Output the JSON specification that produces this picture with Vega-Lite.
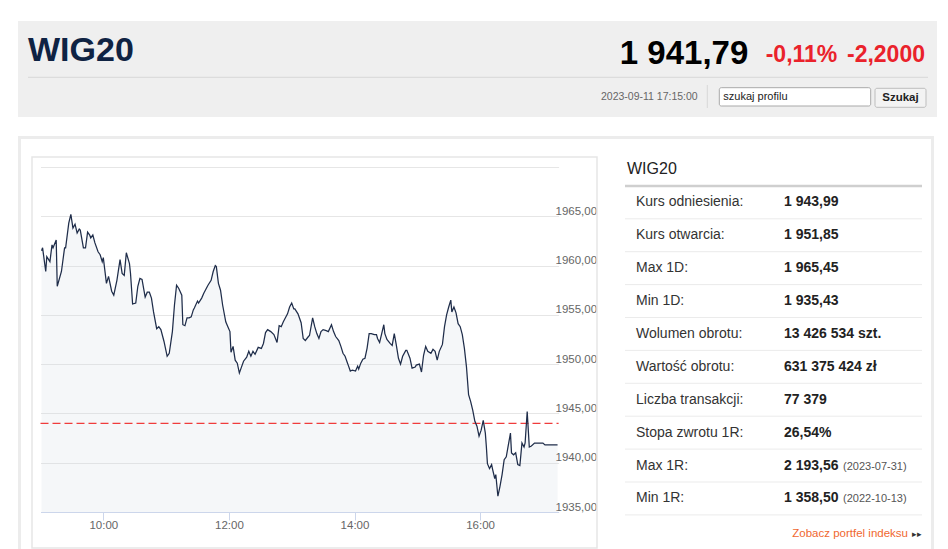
{
  "$schema": "https://vega.github.io/schema/vega-lite/v6.json",
  "padding": {"left": 18, "top": 21, "right": 0, "bottom": 0},
  "background": "#ffffff",
  "spacing": 19,
  "config": {"font": "Liberation Sans", "view": {"stroke": null}},
  "vconcat": [
    {
      "width": 919,
      "height": 96,
      "view": {"fill": "#efefef", "stroke": null},
      "data": {
        "values": [
          {"item": "name", "text": "WIG20"},
          {"item": "price", "text": "1 941,79"},
          {"item": "pct", "text": "-0,11%"},
          {"item": "chg", "text": "-2,2000"},
          {"item": "time", "text": "2023-09-11 17:15:00"},
          {"item": "search", "text": "szukaj profilu"},
          {"item": "button", "text": "Szukaj"}
        ]
      },
      "layer": [
        {
          "data": {"values": [{}]},
          "mark": {"type": "rule", "color": "#d8d8d8", "strokeWidth": 1},
          "encoding": {
            "x": {"datum": 10, "type": "quantitative", "scale": {"domain": [0, 919], "range": [0, 919]}, "axis": null},
            "x2": {"datum": 910},
            "y": {"datum": 56.3, "type": "quantitative", "scale": {"domain": [0, 96], "range": [0, 96]}, "axis": null}
          }
        },
        {
          "data": {"values": [{}]},
          "mark": {"type": "rule", "color": "#d8d8d8", "strokeWidth": 1},
          "encoding": {
            "x": {"datum": 689.3, "type": "quantitative", "scale": {"domain": [0, 919], "range": [0, 919]}, "axis": null},
            "y": {"datum": 64, "type": "quantitative", "scale": {"domain": [0, 96], "range": [0, 96]}, "axis": null},
            "y2": {"datum": 87}
          }
        },
        {
          "data": {"values": [{}]},
          "mark": {"type": "rect", "fill": "#ffffff", "stroke": "#a9a9a9", "strokeWidth": 1, "cornerRadius": 2},
          "encoding": {
            "x": {"datum": 701.3, "type": "quantitative", "scale": {"domain": [0, 919], "range": [0, 919]}, "axis": null},
            "x2": {"datum": 852.7},
            "y": {"datum": 66.7, "type": "quantitative", "scale": {"domain": [0, 96], "range": [0, 96]}, "axis": null},
            "y2": {"datum": 85}
          }
        },
        {
          "data": {"values": [{}]},
          "mark": {"type": "rect", "fill": "#f3f3f3", "stroke": "#bdbdbd", "strokeWidth": 1, "cornerRadius": 2},
          "encoding": {
            "x": {"datum": 857, "type": "quantitative", "scale": {"domain": [0, 919], "range": [0, 919]}, "axis": null},
            "x2": {"datum": 908},
            "y": {"datum": 67.3, "type": "quantitative", "scale": {"domain": [0, 96], "range": [0, 96]}, "axis": null},
            "y2": {"datum": 86.3}
          }
        },
        {
          "transform": [{"filter": "datum.item === 'name'"}],
          "mark": {"type": "text", "align": "left", "baseline": "alphabetic", "fontSize": 34, "fontWeight": "bold", "color": "#0f2343"},
          "encoding": {
            "x": {"datum": 10, "type": "quantitative", "scale": {"domain": [0, 919], "range": [0, 919]}, "axis": null},
            "y": {"datum": 39.5, "type": "quantitative", "scale": {"domain": [0, 96], "range": [0, 96]}, "axis": null},
            "text": {"field": "text"}
          }
        },
        {
          "transform": [{"filter": "datum.item === 'price'"}],
          "mark": {"type": "text", "align": "right", "baseline": "alphabetic", "fontSize": 33, "fontWeight": "bold", "color": "#000000"},
          "encoding": {
            "x": {"datum": 730.3, "type": "quantitative", "scale": {"domain": [0, 919], "range": [0, 919]}, "axis": null},
            "y": {"datum": 43.3, "type": "quantitative", "scale": {"domain": [0, 96], "range": [0, 96]}, "axis": null},
            "text": {"field": "text"}
          }
        },
        {
          "transform": [{"filter": "datum.item === 'pct'"}],
          "mark": {"type": "text", "align": "right", "baseline": "alphabetic", "fontSize": 23, "fontWeight": "bold", "color": "#ea222b"},
          "encoding": {
            "x": {"datum": 819.3, "type": "quantitative", "scale": {"domain": [0, 919], "range": [0, 919]}, "axis": null},
            "y": {"datum": 40.7, "type": "quantitative", "scale": {"domain": [0, 96], "range": [0, 96]}, "axis": null},
            "text": {"field": "text"}
          }
        },
        {
          "transform": [{"filter": "datum.item === 'chg'"}],
          "mark": {"type": "text", "align": "right", "baseline": "alphabetic", "fontSize": 23, "fontWeight": "bold", "color": "#ea222b"},
          "encoding": {
            "x": {"datum": 907, "type": "quantitative", "scale": {"domain": [0, 919], "range": [0, 919]}, "axis": null},
            "y": {"datum": 40.7, "type": "quantitative", "scale": {"domain": [0, 96], "range": [0, 96]}, "axis": null},
            "text": {"field": "text"}
          }
        },
        {
          "transform": [{"filter": "datum.item === 'time'"}],
          "mark": {"type": "text", "align": "right", "baseline": "middle", "fontSize": 10.5, "color": "#666666"},
          "encoding": {
            "x": {"datum": 679.7, "type": "quantitative", "scale": {"domain": [0, 919], "range": [0, 919]}, "axis": null},
            "y": {"datum": 75.7, "type": "quantitative", "scale": {"domain": [0, 96], "range": [0, 96]}, "axis": null},
            "text": {"field": "text"}
          }
        },
        {
          "transform": [{"filter": "datum.item === 'search'"}],
          "mark": {"type": "text", "align": "left", "baseline": "middle", "fontSize": 11, "color": "#222222"},
          "encoding": {
            "x": {"datum": 705.3, "type": "quantitative", "scale": {"domain": [0, 919], "range": [0, 919]}, "axis": null},
            "y": {"datum": 76, "type": "quantitative", "scale": {"domain": [0, 96], "range": [0, 96]}, "axis": null},
            "text": {"field": "text"}
          }
        },
        {
          "transform": [{"filter": "datum.item === 'button'"}],
          "mark": {"type": "text", "align": "center", "baseline": "middle", "fontSize": 11.5, "fontWeight": "bold", "color": "#222222"},
          "encoding": {
            "x": {"datum": 882.5, "type": "quantitative", "scale": {"domain": [0, 919], "range": [0, 919]}, "axis": null},
            "y": {"datum": 77, "type": "quantitative", "scale": {"domain": [0, 96], "range": [0, 96]}, "axis": null},
            "text": {"field": "text"}
          }
        }
      ]
    },
    {
      "width": 916,
      "height": 413,
      "data": {
        "format": {"parse": {"t": "date:'%H:%M'"}},
        "values": [
          {"t": "09:01", "v": 1961.5}, {"t": "09:02", "v": 1961.8}, {"t": "09:05", "v": 1959.4}, {"t": "09:06", "v": 1960.9},
          {"t": "09:09", "v": 1960.4}, {"t": "09:11", "v": 1962.1}, {"t": "09:12", "v": 1961.8}, {"t": "09:15", "v": 1962.6},
          {"t": "09:16", "v": 1957.9}, {"t": "09:20", "v": 1959.4}, {"t": "09:23", "v": 1961.8}, {"t": "09:24", "v": 1961.8},
          {"t": "09:27", "v": 1964.3}, {"t": "09:29", "v": 1965.2}, {"t": "09:31", "v": 1963.8}, {"t": "09:33", "v": 1964.2},
          {"t": "09:35", "v": 1963.3}, {"t": "09:37", "v": 1963.7}, {"t": "09:38", "v": 1963.6}, {"t": "09:41", "v": 1961.8},
          {"t": "09:43", "v": 1961.8}, {"t": "09:45", "v": 1963.4}, {"t": "09:47", "v": 1963.1}, {"t": "09:48", "v": 1962.8},
          {"t": "09:50", "v": 1963.1}, {"t": "09:52", "v": 1962.3}, {"t": "09:55", "v": 1961.4}, {"t": "09:57", "v": 1961.1},
          {"t": "09:59", "v": 1960.4}, {"t": "10:00", "v": 1960.8}, {"t": "10:03", "v": 1958.2}, {"t": "10:05", "v": 1958.9},
          {"t": "10:08", "v": 1957.4}, {"t": "10:10", "v": 1957.0}, {"t": "10:13", "v": 1958.5}, {"t": "10:16", "v": 1960.6},
          {"t": "10:18", "v": 1959.2}, {"t": "10:20", "v": 1959.0}, {"t": "10:22", "v": 1961.3}, {"t": "10:25", "v": 1960.2},
          {"t": "10:26", "v": 1959.2}, {"t": "10:28", "v": 1956.1}, {"t": "10:31", "v": 1956.2}, {"t": "10:33", "v": 1957.9},
          {"t": "10:35", "v": 1958.7}, {"t": "10:37", "v": 1958.6}, {"t": "10:40", "v": 1956.8}, {"t": "10:42", "v": 1957.3},
          {"t": "10:44", "v": 1957.3}, {"t": "10:46", "v": 1956.7}, {"t": "10:48", "v": 1955.3}, {"t": "10:51", "v": 1953.6},
          {"t": "10:53", "v": 1953.8}, {"t": "10:55", "v": 1953.5}, {"t": "10:58", "v": 1952.3}, {"t": "11:01", "v": 1950.8},
          {"t": "11:03", "v": 1951.1}, {"t": "11:06", "v": 1953.3}, {"t": "11:08", "v": 1956.0}, {"t": "11:10", "v": 1958.0},
          {"t": "11:12", "v": 1957.7}, {"t": "11:15", "v": 1957.0}, {"t": "11:16", "v": 1954.0}, {"t": "11:18", "v": 1953.9},
          {"t": "11:20", "v": 1954.7}, {"t": "11:22", "v": 1954.7}, {"t": "11:24", "v": 1954.8}, {"t": "11:26", "v": 1955.5},
          {"t": "11:27", "v": 1955.7}, {"t": "11:30", "v": 1956.4}, {"t": "11:31", "v": 1956.2}, {"t": "11:34", "v": 1956.7},
          {"t": "11:36", "v": 1957.2}, {"t": "11:38", "v": 1957.6}, {"t": "11:40", "v": 1958.0}, {"t": "11:43", "v": 1958.5},
          {"t": "11:45", "v": 1959.4}, {"t": "11:47", "v": 1960.0}, {"t": "11:48", "v": 1959.9}, {"t": "11:50", "v": 1958.2},
          {"t": "11:52", "v": 1957.5}, {"t": "11:54", "v": 1956.0}, {"t": "11:57", "v": 1954.3}, {"t": "11:59", "v": 1953.8},
          {"t": "12:01", "v": 1953.3}, {"t": "12:02", "v": 1951.2}, {"t": "12:04", "v": 1951.8}, {"t": "12:06", "v": 1950.4},
          {"t": "12:08", "v": 1950.1}, {"t": "12:10", "v": 1949.1}, {"t": "12:12", "v": 1949.7}, {"t": "12:14", "v": 1950.3},
          {"t": "12:17", "v": 1950.7}, {"t": "12:19", "v": 1951.3}, {"t": "12:21", "v": 1950.8}, {"t": "12:23", "v": 1951.3},
          {"t": "12:25", "v": 1951.0}, {"t": "12:28", "v": 1951.7}, {"t": "12:31", "v": 1951.6}, {"t": "12:33", "v": 1952.1},
          {"t": "12:35", "v": 1953.2}, {"t": "12:37", "v": 1953.5}, {"t": "12:40", "v": 1953.3}, {"t": "12:43", "v": 1953.0},
          {"t": "12:46", "v": 1952.2}, {"t": "12:48", "v": 1953.9}, {"t": "12:50", "v": 1953.8}, {"t": "12:52", "v": 1954.3},
          {"t": "12:54", "v": 1954.7}, {"t": "12:56", "v": 1955.1}, {"t": "12:58", "v": 1955.8}, {"t": "13:00", "v": 1956.2},
          {"t": "13:02", "v": 1955.6}, {"t": "13:03", "v": 1955.6}, {"t": "13:06", "v": 1955.1}, {"t": "13:09", "v": 1954.2},
          {"t": "13:11", "v": 1952.6}, {"t": "13:13", "v": 1952.4}, {"t": "13:16", "v": 1952.8}, {"t": "13:17", "v": 1952.9},
          {"t": "13:20", "v": 1954.7}, {"t": "13:22", "v": 1953.8}, {"t": "13:24", "v": 1953.1}, {"t": "13:26", "v": 1952.6},
          {"t": "13:28", "v": 1953.3}, {"t": "13:30", "v": 1953.5}, {"t": "13:33", "v": 1953.4}, {"t": "13:35", "v": 1953.3},
          {"t": "13:38", "v": 1954.0}, {"t": "13:40", "v": 1953.3}, {"t": "13:42", "v": 1952.8}, {"t": "13:45", "v": 1952.4},
          {"t": "13:47", "v": 1951.8}, {"t": "13:49", "v": 1951.1}, {"t": "13:51", "v": 1950.8}, {"t": "13:53", "v": 1950.2},
          {"t": "13:54", "v": 1949.9}, {"t": "13:56", "v": 1949.3}, {"t": "13:58", "v": 1949.4}, {"t": "14:01", "v": 1949.3},
          {"t": "14:03", "v": 1949.8}, {"t": "14:04", "v": 1949.5}, {"t": "14:06", "v": 1950.1}, {"t": "14:08", "v": 1950.5},
          {"t": "14:10", "v": 1950.6}, {"t": "14:12", "v": 1951.6}, {"t": "14:14", "v": 1953.1}, {"t": "14:16", "v": 1953.1},
          {"t": "14:19", "v": 1953.0}, {"t": "14:21", "v": 1953.0}, {"t": "14:22", "v": 1952.6}, {"t": "14:24", "v": 1952.2},
          {"t": "14:26", "v": 1953.1}, {"t": "14:28", "v": 1954.0}, {"t": "14:29", "v": 1953.1}, {"t": "14:31", "v": 1952.5},
          {"t": "14:34", "v": 1952.1}, {"t": "14:36", "v": 1951.9}, {"t": "14:38", "v": 1953.1}, {"t": "14:40", "v": 1951.9},
          {"t": "14:42", "v": 1950.6}, {"t": "14:44", "v": 1950.0}, {"t": "14:46", "v": 1950.8}, {"t": "14:49", "v": 1951.4},
          {"t": "14:50", "v": 1951.4}, {"t": "14:53", "v": 1950.6}, {"t": "14:55", "v": 1949.6}, {"t": "14:58", "v": 1949.7},
          {"t": "14:59", "v": 1949.9}, {"t": "15:02", "v": 1950.0}, {"t": "15:04", "v": 1949.2}, {"t": "15:06", "v": 1950.9},
          {"t": "15:08", "v": 1951.8}, {"t": "15:10", "v": 1951.3}, {"t": "15:13", "v": 1951.1}, {"t": "15:15", "v": 1951.5},
          {"t": "15:17", "v": 1951.3}, {"t": "15:19", "v": 1950.4}, {"t": "15:21", "v": 1951.3}, {"t": "15:24", "v": 1952.0},
          {"t": "15:26", "v": 1953.8}, {"t": "15:28", "v": 1955.0}, {"t": "15:30", "v": 1955.8}, {"t": "15:32", "v": 1956.5},
          {"t": "15:33", "v": 1955.3}, {"t": "15:35", "v": 1955.8}, {"t": "15:37", "v": 1955.2}, {"t": "15:39", "v": 1954.1},
          {"t": "15:41", "v": 1953.8}, {"t": "15:43", "v": 1953.0}, {"t": "15:45", "v": 1951.6}, {"t": "15:47", "v": 1949.7},
          {"t": "15:49", "v": 1946.9}, {"t": "15:51", "v": 1946.2}, {"t": "15:53", "v": 1945.3}, {"t": "15:55", "v": 1944.2},
          {"t": "15:57", "v": 1943.7}, {"t": "15:59", "v": 1942.7}, {"t": "16:01", "v": 1943.3}, {"t": "16:03", "v": 1944.3},
          {"t": "16:05", "v": 1943.0}, {"t": "16:06", "v": 1941.6}, {"t": "16:07", "v": 1939.9}, {"t": "16:09", "v": 1939.4},
          {"t": "16:11", "v": 1939.8}, {"t": "16:12", "v": 1939.3}, {"t": "16:14", "v": 1938.4}, {"t": "16:15", "v": 1938.8},
          {"t": "16:17", "v": 1936.6}, {"t": "16:19", "v": 1937.6}, {"t": "16:21", "v": 1938.8}, {"t": "16:23", "v": 1940.3},
          {"t": "16:25", "v": 1940.6}, {"t": "16:27", "v": 1941.8}, {"t": "16:29", "v": 1943.0}, {"t": "16:30", "v": 1941.0},
          {"t": "16:32", "v": 1940.8}, {"t": "16:34", "v": 1941.0}, {"t": "16:36", "v": 1939.8}, {"t": "16:38", "v": 1939.7},
          {"t": "16:40", "v": 1942.0}, {"t": "16:42", "v": 1941.6}, {"t": "16:43", "v": 1942.0}, {"t": "16:45", "v": 1945.2},
          {"t": "16:47", "v": 1941.6}, {"t": "16:49", "v": 1941.7}, {"t": "16:52", "v": 1942.0}, {"t": "16:55", "v": 1942.0},
          {"t": "17:00", "v": 1942.0}, {"t": "17:02", "v": 1941.8}, {"t": "17:08", "v": 1941.8}, {"t": "17:14", "v": 1941.8}
        ]
      },
      "layer": [
        {
          "data": {"values": [{}]},
          "mark": {"type": "rect", "filled": false, "stroke": "#ececec", "strokeWidth": 3, "clip": true},
          "encoding": {
            "x": {"datum": 0, "type": "quantitative", "scale": {"domain": [0, 1], "range": [1.5, 914.5]}, "axis": null},
            "x2": {"datum": 1},
            "y": {"datum": 0, "type": "quantitative", "scale": {"domain": [0, 1], "range": [1.5, 440]}, "axis": null},
            "y2": {"datum": 1}
          }
        },
        {
          "data": {"values": [{}]},
          "mark": {"type": "rect", "filled": false, "stroke": "#e6e6e6", "strokeWidth": 1.5},
          "encoding": {
            "x": {"datum": 0, "type": "quantitative", "scale": {"domain": [0, 1], "range": [14, 579]}, "axis": null},
            "x2": {"datum": 1},
            "y": {"datum": 0, "type": "quantitative", "scale": {"domain": [0, 1], "range": [21, 412]}, "axis": null},
            "y2": {"datum": 1}
          }
        },
        {
          "mark": {"type": "area", "fill": "#cdd6e2", "fillOpacity": 0.2},
          "encoding": {
            "x": {
              "field": "t",
              "type": "temporal",
              "scale": {
                "domain": [
                  {"year": 1900, "month": 1, "date": 1, "hours": 9, "minutes": 0},
                  {"year": 1900, "month": 1, "date": 1, "hours": 17, "minutes": 15}
                ],
                "range": [22.5, 540.6],
                "nice": false
              },
              "axis": {
                "orient": "bottom",
                "offset": -37,
                "values": [
                  {"year": 1900, "month": 1, "date": 1, "hours": 10},
                  {"year": 1900, "month": 1, "date": 1, "hours": 12},
                  {"year": 1900, "month": 1, "date": 1, "hours": 14},
                  {"year": 1900, "month": 1, "date": 1, "hours": 16}
                ],
                "format": "%H:%M",
                "grid": false,
                "title": null,
                "domainColor": "#ccd6eb",
                "domainWidth": 1,
                "tickColor": "#ccd6eb",
                "tickSize": 8,
                "labelColor": "#666666",
                "labelFontSize": 11.5,
                "labelPadding": -1,
                "labelFlush": false
              }
            },
            "y": {
              "field": "v",
              "type": "quantitative",
              "scale": {"domain": [1935, 1970], "range": [376, 31], "nice": false, "zero": false},
              "axis": {
                "orient": "right",
                "offset": -375.4,
                "values": [1935, 1940, 1945, 1950, 1955, 1960, 1965, 1970],
                "grid": false,
                "domain": false,
                "ticks": false,
                "tickSize": 0,
                "title": null,
                "labelPadding": -3.6,
                "labelBaseline": "bottom",
                "labelColor": "#666666",
                "labelFontSize": 11.5,
                "labelFlush": false,
                "labelOverlap": false,
                "labelExpr": "datum.value >= 1970 ? '' : replace(format(datum.value, '.2f'), '.', ',')"
              }
            },
            "y2": {"datum": 1935}
          }
        },
        {
          "data": {"values": [{"ref": 1943.99}]},
          "mark": {"type": "rule", "color": "#f03c3c", "strokeWidth": 1.2, "strokeDash": [8, 4]},
          "encoding": {
            "x": {"datum": 0, "type": "quantitative", "scale": {"domain": [0, 1], "range": [22.5, 540.6]}, "axis": null},
            "x2": {"datum": 1},
            "y": {
              "field": "ref",
              "type": "quantitative",
              "scale": {"domain": [1935, 1970], "range": [376, 31], "nice": false, "zero": false},
              "axis": null
            }
          }
        },
        {
          "mark": {"type": "line", "color": "#1f2d4a", "strokeWidth": 1.25},
          "encoding": {
            "x": {
              "field": "t",
              "type": "temporal",
              "scale": {
                "domain": [
                  {"year": 1900, "month": 1, "date": 1, "hours": 9, "minutes": 0},
                  {"year": 1900, "month": 1, "date": 1, "hours": 17, "minutes": 15}
                ],
                "range": [22.5, 540.6],
                "nice": false
              },
              "axis": null
            },
            "y": {
              "field": "v",
              "type": "quantitative",
              "scale": {"domain": [1935, 1970], "range": [376, 31], "nice": false, "zero": false},
              "axis": {
                "orient": "left",
                "offset": 0,
                "values": [1935, 1940, 1945, 1950, 1955, 1960, 1965, 1970],
                "grid": true,
                "gridColor": "#e6e6e6",
                "gridWidth": 1,
                "labels": false,
                "domain": false,
                "ticks": false,
                "title": null
              }
            }
          }
        },
        {
          "data": {
            "values": [
              {"kind": "head", "label": "WIG20"},
              {"kind": "row", "label": "Kurs odniesienia:", "value": "1 943,99"},
              {"kind": "row", "label": "Kurs otwarcia:", "value": "1 951,85"},
              {"kind": "row", "label": "Max 1D:", "value": "1 965,45"},
              {"kind": "row", "label": "Min 1D:", "value": "1 935,43"},
              {"kind": "row", "label": "Wolumen obrotu:", "value": "13 426 534 szt."},
              {"kind": "row", "label": "Wartość obrotu:", "value": "631 375 424 zł"},
              {"kind": "row", "label": "Liczba transakcji:", "value": "77 379"},
              {"kind": "row", "label": "Stopa zwrotu 1R:", "value": "26,54%"},
              {"kind": "row", "label": "Max 1R:", "value": "2 193,56", "note": "(2023-07-31)"},
              {"kind": "row", "label": "Min 1R:", "value": "1 358,50", "note": "(2022-10-13)"},
              {"kind": "link", "label": "Zobacz portfel indeksu"}
            ]
          },
          "encoding": {
            "y": {
              "field": "label",
              "type": "nominal",
              "bandPosition": 0.5,
              "scale": {
                "type": "band",
                "domain": ["WIG20", "Kurs odniesienia:", "Kurs otwarcia:", "Max 1D:", "Min 1D:", "Wolumen obrotu:", "Wartość obrotu:", "Liczba transakcji:", "Stopa zwrotu 1R:", "Max 1R:", "Min 1R:", "Zobacz portfel indeksu"],
                "range": [17, 411.8],
                "paddingInner": 0,
                "paddingOuter": 0
              },
              "axis": null
            }
          },
          "layer": [
            {
              "transform": [{"filter": "datum.kind === 'head'"}],
              "mark": {"type": "rule", "color": "#cfcfcf", "strokeWidth": 2.5},
              "encoding": {
                "x": {"datum": "label", "type": "nominal", "bandPosition": 0, "scale": {"type": "band", "domain": ["label", "value"], "range": [607, 904], "paddingInner": 0, "paddingOuter": 0}, "axis": null},
                "x2": {"datum": "value", "bandPosition": 1},
                "y": {"field": "label", "type": "nominal", "bandPosition": 1}
              }
            },
            {
              "transform": [{"filter": "datum.kind === 'row'"}],
              "mark": {"type": "rule", "color": "#ebebeb", "strokeWidth": 1},
              "encoding": {
                "x": {"datum": "label", "type": "nominal", "bandPosition": 0, "scale": {"type": "band", "domain": ["label", "value"], "range": [607, 904], "paddingInner": 0, "paddingOuter": 0}, "axis": null},
                "x2": {"datum": "value", "bandPosition": 1},
                "y": {"field": "label", "type": "nominal", "bandPosition": 1}
              }
            },
            {
              "transform": [{"filter": "datum.kind === 'head'"}],
              "mark": {"type": "text", "align": "left", "baseline": "middle", "fontSize": 16, "color": "#222222", "dx": 2},
              "encoding": {
                "x": {"datum": "label", "type": "nominal", "bandPosition": 0, "scale": {"type": "band", "domain": ["label", "value"], "range": [607, 904], "paddingInner": 0, "paddingOuter": 0}, "axis": null},
                "text": {"field": "label"}
              }
            },
            {
              "transform": [{"filter": "datum.kind === 'row'"}],
              "mark": {"type": "text", "align": "left", "baseline": "middle", "fontSize": 14, "color": "#333333", "dx": 11},
              "encoding": {
                "x": {"datum": "label", "type": "nominal", "bandPosition": 0, "scale": {"type": "band", "domain": ["label", "value"], "range": [607, 904], "paddingInner": 0, "paddingOuter": 0}, "axis": null},
                "text": {"field": "label"}
              }
            },
            {
              "transform": [{"filter": "datum.kind === 'row'"}],
              "mark": {"type": "text", "align": "left", "baseline": "middle", "fontSize": 14, "fontWeight": "bold", "color": "#222222", "dx": 10.5},
              "encoding": {
                "x": {"datum": "value", "type": "nominal", "bandPosition": 0, "scale": {"type": "band", "domain": ["label", "value"], "range": [607, 904], "paddingInner": 0, "paddingOuter": 0}, "axis": null},
                "text": {"field": "value"}
              }
            },
            {
              "transform": [{"filter": "datum.note"}],
              "mark": {"type": "text", "align": "left", "baseline": "middle", "fontSize": 11, "color": "#555555", "dx": 69.5, "dy": 1},
              "encoding": {
                "x": {"datum": "value", "type": "nominal", "bandPosition": 0, "scale": {"type": "band", "domain": ["label", "value"], "range": [607, 904], "paddingInner": 0, "paddingOuter": 0}, "axis": null},
                "text": {"field": "note"}
              }
            },
            {
              "transform": [{"filter": "datum.kind === 'link'"}],
              "mark": {"type": "text", "align": "right", "baseline": "middle", "fontSize": 11.5, "color": "#f0672f", "dx": -14, "dy": 2.6},
              "encoding": {
                "x": {"datum": "value", "type": "nominal", "bandPosition": 1, "scale": {"type": "band", "domain": ["label", "value"], "range": [607, 904], "paddingInner": 0, "paddingOuter": 0}, "axis": null},
                "text": {"field": "label"}
              }
            },
            {
              "transform": [{"filter": "datum.kind === 'link'"}],
              "mark": {"type": "text", "align": "right", "baseline": "middle", "fontSize": 9, "color": "#333333", "dy": 2.6, "text": "▸▸"},
              "encoding": {
                "x": {"datum": "value", "type": "nominal", "bandPosition": 1, "scale": {"type": "band", "domain": ["label", "value"], "range": [607, 904], "paddingInner": 0, "paddingOuter": 0}, "axis": null}
              }
            }
          ]
        }
      ],
      "resolve": {"scale": {"x": "independent", "y": "independent"}}
    }
  ]
}
